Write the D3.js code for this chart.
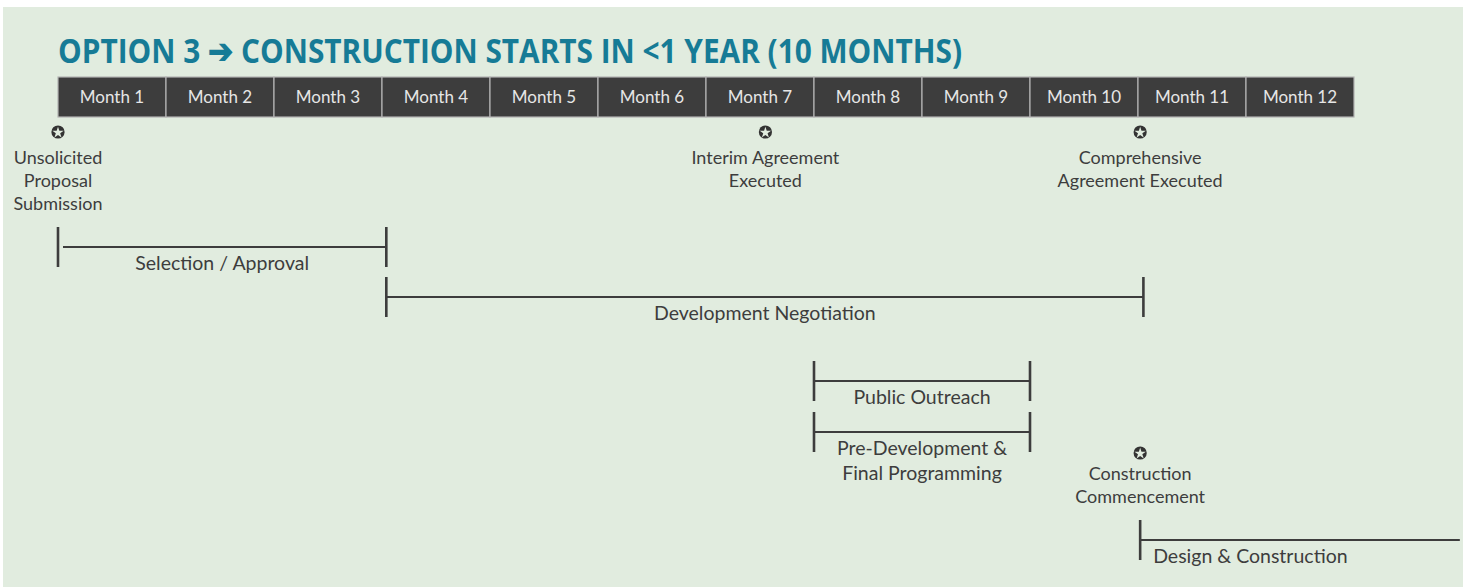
<!DOCTYPE html>
<html><head><meta charset="utf-8">
<script src="https://cdn.jsdelivr.net/npm/d3@7"></script>
<style>
html,body{margin:0;padding:0;background:#fff;}
svg{display:block;}
</style></head>
<body>
<svg id="chart" width="1463" height="587"></svg>
<script>
// ---- data ----
const title = "OPTION 3 \u2794 CONSTRUCTION STARTS IN <1 YEAR (10 MONTHS)";
const months = ["Month 1","Month 2","Month 3","Month 4","Month 5","Month 6","Month 7","Month 8","Month 9","Month 10","Month 11","Month 12"];
// milestones: month position (0 = start of Month 1)
const milestoneNames = [["Unsolicited","Proposal","Submission"],["Interim Agreement","Executed"],["Comprehensive","Agreement Executed"],["Construction","Commencement"]];
const milestoneAt = [0, 6.55, 10.02, 10.02];
const milestoneRow = [0, 0, 0, 1];
// phases: start / end in months
const phaseNames = [["Selection / Approval"],["Development Negotiation"],["Public Outreach"],["Pre-Development &","Final Programming"],["Design & Construction"]];
const phaseStart = [0, 3.04, 7, 7, 10.02];
const phaseEnd   = [3.04, 10.05, 9, 9, 12.98];
const phaseRow   = [0, 1, 2, 3, 4];

// ---- layout ----
const svg = d3.select("#chart");
const W = 1463, H = 587;
const bg = "#e1ecdf", ink = "#3d3d3d";
svg.append("rect").attr("x",3).attr("y",7).attr("width",W-3).attr("height",H-7).attr("fill",bg);

const x = d3.scaleLinear().domain([0,12]).range([58,1354]);
const band = d3.scaleBand().domain(months).range([x(0),x(12)]);

// title
const t = svg.append("text").attr("x",58).attr("y",0)
  .attr("transform","translate(0,63) scale(1,1.13)")
  .attr("font-family","'Open Sans', sans-serif").attr("font-weight",700)
  .attr("font-size",28).attr("fill","#167b96").text(title);
(function fit(){
  const target = 904; let fs = 28;
  for (let i=0;i<6;i++){ const w=t.node().getComputedTextLength(); fs = fs*target/w; t.attr("font-size",fs); }
})();

// month header
const hdrTop = 77, hdrH = 40;
const hdr = svg.append("g");
hdr.selectAll("rect").data(months).join("rect")
  .attr("x",d=>band(d)).attr("y",hdrTop).attr("width",band.bandwidth()).attr("height",hdrH)
  .attr("fill","#3d3d3d").attr("stroke","#b3b3b3").attr("stroke-width",1.2);
hdr.selectAll("text").data(months).join("text")
  .attr("x",d=>band(d)+band.bandwidth()/2).attr("y",hdrTop+hdrH/2+6)
  .attr("text-anchor","middle").attr("font-family","Lato, sans-serif").attr("font-size",17)
  .attr("fill","#e6e6e6").text(d=>d);

const bodyFont = "Lato, sans-serif";

// milestones
const rowStarY = [132, 453];
const rowTextY = [164, 480];
const lh = 23;
const star = d3.symbol().type(d3.symbolStar).size(40);
milestoneAt.forEach((m,i)=>{
  const g = svg.append("g");
  const cx = x(m), sy = rowStarY[milestoneRow[i]];
  g.append("circle").attr("cx",cx).attr("cy",sy).attr("r",6.6).attr("fill","#333");
  g.append("path").attr("d",star()).attr("transform",`translate(${cx},${sy+0.6})`).attr("fill",bg);
  g.selectAll("text").data(milestoneNames[i]).join("text")
    .attr("x",cx).attr("y",(d,j)=>rowTextY[milestoneRow[i]]+j*lh)
    .attr("text-anchor","middle").attr("font-family",bodyFont).attr("font-size",18)
    .attr("fill",ink).text(d=>d);
});

// phases
const rowLineY = [247, 297, 381, 432, 540];
phaseNames.forEach((nm,i)=>{
  const y0 = rowLineY[phaseRow[i]];
  const x0 = x(phaseStart[i]), x1 = x(phaseEnd[i]);
  const open = x1 > W - 10;
  const g = svg.append("g").attr("stroke",ink);
  g.append("line").attr("x1", i===0 ? x0+5 : x0).attr("x2",x1).attr("y1",y0).attr("y2",y0).attr("stroke-width",2.2);
  g.append("line").attr("x1",x0).attr("x2",x0).attr("y1",y0-20).attr("y2",y0+20).attr("stroke-width",2.6);
  if (!open) g.append("line").attr("x1",x1).attr("x2",x1).attr("y1",y0-20).attr("y2",y0+20).attr("stroke-width",2.6);
  const tx = open ? x0+13 : (x0+x1)/2;
  svg.append("g").selectAll("text").data(nm).join("text")
    .attr("x",tx).attr("y",(d,j)=>y0+23+j*25)
    .attr("text-anchor", open ? "start" : "middle")
    .attr("font-family",bodyFont).attr("font-size",19.5).attr("fill",ink).text(d=>d);
});
</script>
</body></html>
